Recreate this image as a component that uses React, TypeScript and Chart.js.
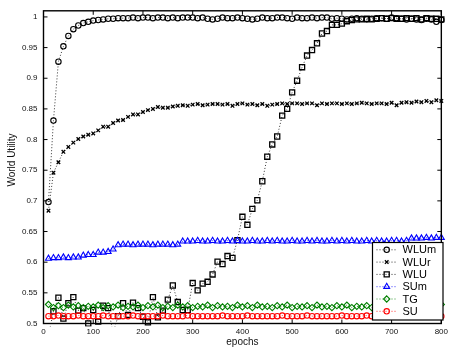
import React, { useEffect, useRef } from 'react';
import { Chart, registerables } from 'chart.js';

Chart.register(...registerables);

// Training epochs at which each utility was recorded
const EPOCHS = [
  10, 20, 30, 40, 50, 60, 70, 80, 90, 100,
  110, 120, 130, 140, 150, 160, 170, 180, 190, 200,
  210, 220, 230, 240, 250, 260, 270, 280, 290, 300,
  310, 320, 330, 340, 350, 360, 370, 380, 390, 400,
  410, 420, 430, 440, 450, 460, 470, 480, 490, 500,
  510, 520, 530, 540, 550, 560, 570, 580, 590, 600,
  610, 620, 630, 640, 650, 660, 670, 680, 690, 700,
  710, 720, 730, 740, 750, 760, 770, 780, 790, 800,
];

const WLUM = [
  0.698, 0.831, 0.927, 0.952, 0.969, 0.980, 0.986, 0.990, 0.992, 0.994,
  0.995, 0.996, 0.997, 0.997, 0.998, 0.998, 0.998, 0.999, 0.998, 0.999,
  0.999, 0.998, 0.999, 0.999, 0.998, 0.999, 0.998, 0.999, 0.999, 0.999,
  0.998, 0.999, 0.997, 0.996, 0.997, 0.999, 0.998, 0.998, 0.999, 0.998,
  0.997, 0.996, 0.997, 0.999, 0.998, 0.998, 0.999, 0.999, 0.998, 0.997,
  0.999, 0.998, 0.998, 0.999, 0.998, 0.999, 0.999, 0.997, 0.998, 0.997,
  0.996, 0.997, 0.998, 0.997, 0.996, 0.997, 0.998, 0.998, 0.997, 0.999,
  0.998, 0.997, 0.996, 0.997, 0.996, 0.995, 0.997, 0.996, 0.992, 0.995,
];

const WLUR = [
  0.684, 0.746, 0.763, 0.780, 0.788, 0.795, 0.801, 0.805, 0.808, 0.810,
  0.815, 0.821, 0.821, 0.827, 0.831, 0.832, 0.837, 0.841, 0.841, 0.845,
  0.848, 0.850, 0.853, 0.852, 0.852, 0.854, 0.855, 0.856, 0.855, 0.857,
  0.858, 0.856, 0.857, 0.858, 0.858, 0.857, 0.858, 0.855, 0.858, 0.859,
  0.857, 0.858, 0.856, 0.858, 0.855, 0.857, 0.858, 0.859, 0.858, 0.859,
  0.859, 0.858, 0.859, 0.859, 0.856, 0.859, 0.858, 0.859, 0.859, 0.858,
  0.859, 0.858, 0.859, 0.860, 0.859, 0.858, 0.859, 0.859, 0.858, 0.860,
  0.856, 0.860, 0.861, 0.860, 0.862, 0.861, 0.863, 0.861, 0.864, 0.863,
];

const WLU = [
  0.480, 0.520, 0.542, 0.508, 0.533, 0.543, 0.521, 0.525, 0.500, 0.522,
  0.503, 0.529, 0.525, 0.485, 0.512, 0.533, 0.514, 0.534, 0.525, 0.511,
  0.502, 0.543, 0.510, 0.521, 0.539, 0.562, 0.535, 0.522, 0.522, 0.566,
  0.554, 0.565, 0.568, 0.580, 0.601, 0.597, 0.610, 0.607, 0.636, 0.674,
  0.661, 0.687, 0.701, 0.732, 0.772, 0.792, 0.805, 0.839, 0.850, 0.877,
  0.896, 0.918, 0.937, 0.946, 0.957, 0.973, 0.977, 0.987, 0.987, 0.989,
  0.993, 0.995, 0.996, 0.996, 0.997, 0.996, 0.997, 0.998, 0.997, 0.998,
  0.997, 0.997, 0.998, 0.997, 0.998, 0.996, 0.998, 0.997, 0.997, 0.996,
];

const SUM = [
  0.606, 0.607, 0.607, 0.608, 0.607, 0.608, 0.608, 0.611, 0.612, 0.612,
  0.616, 0.616, 0.617, 0.621, 0.628, 0.629, 0.629, 0.628, 0.629, 0.629,
  0.629, 0.628, 0.629, 0.629, 0.629, 0.628, 0.629, 0.634, 0.634, 0.634,
  0.635, 0.634, 0.634, 0.635, 0.634, 0.634, 0.635, 0.634, 0.635, 0.634,
  0.634, 0.635, 0.634, 0.634, 0.635, 0.634, 0.635, 0.634, 0.634, 0.635,
  0.634, 0.634, 0.635, 0.634, 0.635, 0.634, 0.634, 0.635, 0.634, 0.635,
  0.634, 0.635, 0.634, 0.634, 0.635, 0.634, 0.635, 0.634, 0.634, 0.635,
  0.635, 0.634, 0.635, 0.639, 0.639, 0.639, 0.640, 0.639, 0.640, 0.640,
];

const TG = [
  0.531, 0.526, 0.529, 0.526, 0.530, 0.527, 0.529, 0.526, 0.528, 0.527,
  0.530, 0.526, 0.529, 0.527, 0.530, 0.526, 0.528, 0.527, 0.530, 0.526,
  0.529, 0.527, 0.530, 0.526, 0.528, 0.526, 0.530, 0.527, 0.529, 0.526,
  0.528, 0.527, 0.530, 0.526, 0.529, 0.527, 0.528, 0.526, 0.530, 0.527,
  0.529, 0.526, 0.530, 0.527, 0.528, 0.526, 0.529, 0.527, 0.530, 0.526,
  0.528, 0.527, 0.529, 0.526, 0.530, 0.527, 0.528, 0.526, 0.529, 0.527,
  0.530, 0.526, 0.528, 0.527, 0.529, 0.526, 0.530, 0.527, 0.528, 0.526,
  0.529, 0.527, 0.530, 0.526, 0.528, 0.527, 0.529, 0.526, 0.530, 0.531,
];

const SU = [
  0.512, 0.512, 0.513, 0.512, 0.512, 0.512, 0.513, 0.512, 0.512, 0.512,
  0.512, 0.513, 0.512, 0.512, 0.512, 0.512, 0.512, 0.513, 0.512, 0.512,
  0.512, 0.512, 0.512, 0.513, 0.512, 0.512, 0.512, 0.512, 0.513, 0.512,
  0.512, 0.512, 0.512, 0.512, 0.512, 0.513, 0.512, 0.512, 0.512, 0.512,
  0.513, 0.512, 0.512, 0.512, 0.512, 0.512, 0.512, 0.513, 0.512, 0.512,
  0.512, 0.512, 0.513, 0.512, 0.512, 0.512, 0.512, 0.512, 0.512, 0.513,
  0.512, 0.512, 0.512, 0.512, 0.513, 0.512, 0.512, 0.512, 0.512, 0.512,
  0.513, 0.512, 0.512, 0.512, 0.512, 0.512, 0.513, 0.512, 0.512, 0.512,
];

const SERIES_NAMES = ['WLUm', 'WLUr', 'WLU', 'SUm', 'TG', 'SU'];
const SERIES_VALUES = [WLUM, WLUR, WLU, SUM, TG, SU];

const X_TICKS = [0, 100, 200, 300, 400, 500, 600, 700, 800];
const Y_TICKS = [0.5, 0.55, 0.6, 0.65, 0.7, 0.75, 0.8, 0.85, 0.9, 0.95, 1];
const Y_TICK_LABELS = ['0.5', '0.55', '0.6', '0.65', '0.7', '0.75', '0.8', '0.85', '0.9', '0.95', '1'];

const X_TITLE = 'epochs';
const Y_TITLE = 'World Utility';

const FONT = '"Liberation Sans", Arial, Helvetica, sans-serif';

type Marker = 'circle' | 'crossRot' | 'rect' | 'triangle' | 'rectRot';
interface Look { color: string; marker: Marker; radius: number; width: number }

const LOOKS: Look[] = [
  { color: '#000000', marker: 'circle', radius: 2.7, width: 1.1 },
  { color: '#000000', marker: 'crossRot', radius: 2.5, width: 1.3 },
  { color: '#000000', marker: 'rect', radius: 3.6, width: 1.3 },
  { color: '#0000ff', marker: 'triangle', radius: 3.4, width: 1.1 },
  { color: '#008000', marker: 'rectRot', radius: 3.1, width: 1.1 },
  { color: '#ff0000', marker: 'circle', radius: 2.7, width: 1.1 },
];

const DOTS = [1, 2];

function drawMarker(ctx: CanvasRenderingContext2D, look: Look, x: number, y: number) {
  const r = look.radius;
  ctx.save();
  ctx.setLineDash([]);
  ctx.strokeStyle = look.color;
  ctx.lineWidth = look.width;
  ctx.beginPath();
  if (look.marker === 'circle') {
    ctx.arc(x, y, r, 0, Math.PI * 2);
  } else if (look.marker === 'crossRot') {
    const d = r * Math.SQRT1_2;
    ctx.moveTo(x - d, y - d);
    ctx.lineTo(x + d, y + d);
    ctx.moveTo(x - d, y + d);
    ctx.lineTo(x + d, y - d);
  } else if (look.marker === 'rect') {
    const s = r * Math.SQRT1_2;
    ctx.rect(x - s, y - s, 2 * s, 2 * s);
  } else if (look.marker === 'triangle') {
    let a = 0;
    ctx.moveTo(x + Math.sin(a) * r, y - Math.cos(a) * r);
    a += (2 * Math.PI) / 3;
    ctx.lineTo(x + Math.sin(a) * r, y - Math.cos(a) * r);
    a += (2 * Math.PI) / 3;
    ctx.lineTo(x + Math.sin(a) * r, y - Math.cos(a) * r);
    ctx.closePath();
  } else {
    ctx.moveTo(x, y - r);
    ctx.lineTo(x + r, y);
    ctx.lineTo(x, y + r);
    ctx.lineTo(x - r, y);
    ctx.closePath();
  }
  ctx.stroke();
  ctx.restore();
}

// Axes box with inward tick marks, MATLAB style
const framePlugin = {
  id: 'frame',
  afterDatasetsDraw(chart: Chart) {
    const { ctx, chartArea: a, scales } = chart;
    const xs = scales.x;
    const ys = scales.y;
    const tl = 4;
    ctx.save();
    ctx.strokeStyle = '#000';
    ctx.lineWidth = 1;
    ctx.setLineDash([]);
    ctx.beginPath();
    X_TICKS.forEach((v) => {
      const px = xs.getPixelForValue(v);
      ctx.moveTo(px, a.bottom);
      ctx.lineTo(px, a.bottom - tl);
      ctx.moveTo(px, a.top);
      ctx.lineTo(px, a.top + tl);
    });
    Y_TICKS.forEach((v) => {
      const py = ys.getPixelForValue(v);
      ctx.moveTo(a.left, py);
      ctx.lineTo(a.left + tl, py);
      ctx.moveTo(a.right, py);
      ctx.lineTo(a.right - tl, py);
    });
    ctx.stroke();
    ctx.lineWidth = 1.4;
    ctx.strokeRect(a.left, a.top, a.right - a.left, a.bottom - a.top);
    ctx.restore();
  },
};

// Boxed legend in the lower-right corner plus the two axis titles
const legendPlugin = {
  id: 'boxLegend',
  afterDraw(chart: Chart) {
    const { ctx, chartArea: a } = chart;
    ctx.save();
    const box = { left: 372.5, top: 242.5, right: 443, bottom: 320 };
    ctx.fillStyle = '#fff';
    ctx.fillRect(box.left, box.top, box.right - box.left, box.bottom - box.top);
    ctx.strokeStyle = '#000';
    ctx.lineWidth = 1.2;
    ctx.strokeRect(box.left, box.top, box.right - box.left, box.bottom - box.top);

    const rowH = 12.3;
    const firstY = 249.8;
    ctx.font = `11px ${FONT}`;
    ctx.textBaseline = 'middle';
    ctx.textAlign = 'left';
    SERIES_NAMES.forEach((name, i) => {
      const look = LOOKS[i];
      const y = firstY + i * rowH;
      ctx.save();
      ctx.strokeStyle = look.color;
      ctx.lineWidth = 0.8;
      ctx.setLineDash(DOTS);
      ctx.beginPath();
      ctx.moveTo(376.5, y);
      ctx.lineTo(397, y);
      ctx.stroke();
      ctx.restore();
      drawMarker(ctx, look, 386.7, y);
      ctx.fillStyle = '#000';
      ctx.fillText(name, 402.5, y + 0.5);
    });

    ctx.fillStyle = '#111';
    ctx.font = `10px ${FONT}`;
    ctx.textAlign = 'center';
    ctx.textBaseline = 'middle';
    ctx.fillText(X_TITLE, (a.left + a.right) / 2, 342);
    ctx.translate(12.5, 160);
    ctx.rotate(-Math.PI / 2);
    ctx.fillText(Y_TITLE, 0, 0);
    ctx.restore();
  },
};

export default function App() {
  const canvasRef = useRef<HTMLCanvasElement | null>(null);

  useEffect(() => {
    const canvas = canvasRef.current;
    if (!canvas) return;

    const datasets = SERIES_NAMES.map((name, i) => {
      const look = LOOKS[i];
      return {
        label: name,
        data: EPOCHS.map((x, j) => ({ x, y: SERIES_VALUES[i][j] })),
        showLine: true,
        borderColor: look.color,
        borderWidth: 0.8,
        borderDash: DOTS,
        fill: false,
        tension: 0,
        pointStyle: look.marker,
        pointRadius: look.radius,
        pointBorderWidth: look.width,
        pointBorderColor: look.color,
        pointBackgroundColor: 'rgba(0,0,0,0)',
        clip: { left: 4, right: 5, top: 4, bottom: 3 },
        order: SERIES_NAMES.length - i,
      };
    });

    const chart = new Chart(canvas, {
      type: 'line',
      data: { datasets },
      options: {
        animation: false,
        responsive: false,
        devicePixelRatio: 1,
        events: [],
        layout: { autoPadding: false, padding: { left: 0, top: 5.3, right: 4.3, bottom: 0 } },
        plugins: {
          legend: { display: false },
          tooltip: { enabled: false },
          title: { display: false },
        },
        scales: {
          x: {
            type: 'linear',
            min: 0,
            max: 800,
            grid: { display: false, drawTicks: false },
            border: { display: false },
            afterBuildTicks: (s: any) => {
              s.ticks = X_TICKS.map((v) => ({ value: v }));
            },
            afterFit: (s: any) => {
              s.height = 25.5;
            },
            ticks: {
              font: { size: 8, family: FONT },
              color: '#111',
              padding: 3,
              maxRotation: 0,
              autoSkip: false,
              align: 'center',
              callback: (v: any) => String(v),
            },
          },
          y: {
            type: 'linear',
            min: 0.5,
            max: 1.01,
            grid: { display: false, drawTicks: false },
            border: { display: false },
            afterBuildTicks: (s: any) => {
              s.ticks = Y_TICKS.map((v) => ({ value: v }));
            },
            afterFit: (s: any) => {
              s.width = 43.5;
            },
            ticks: {
              font: { size: 8, family: FONT },
              color: '#111',
              padding: 6,
              autoSkip: false,
              callback: (v: any) => {
                const k = Y_TICKS.indexOf(Number(v));
                return k >= 0 ? Y_TICK_LABELS[k] : '';
              },
            },
          },
        },
      },
      plugins: [framePlugin, legendPlugin],
    } as any);

    return () => chart.destroy();
  }, []);

  return (
    <div style={{ position: 'fixed', left: 0, top: 0, width: 451, height: 349, background: '#fff' }}>
      <canvas ref={canvasRef} width={451} height={349} style={{ width: 451, height: 349, display: 'block' }} />
    </div>
  );
}
